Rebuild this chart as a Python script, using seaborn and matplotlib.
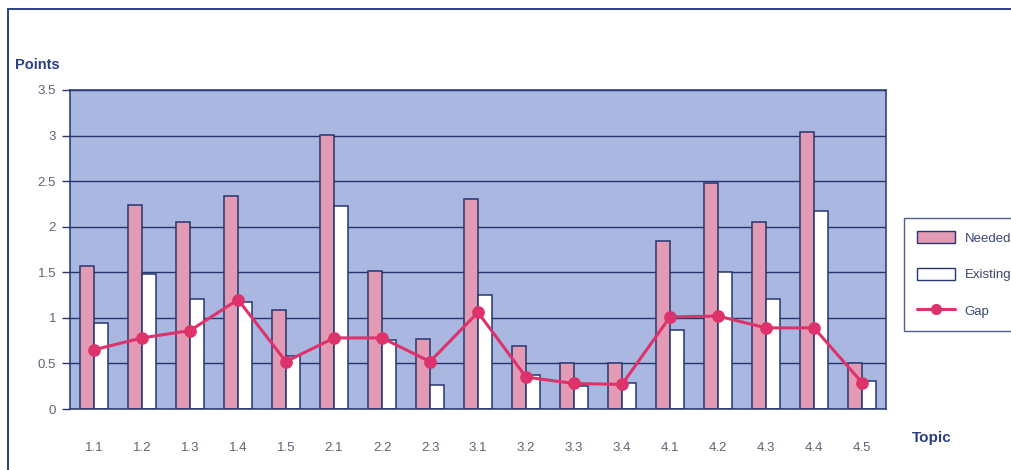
import numpy as np
import pandas as pd
import matplotlib
matplotlib.use("Agg")
import matplotlib.pyplot as plt
from matplotlib.patches import Patch
from matplotlib.lines import Line2D
import seaborn as sns

# Topics and scores
topics = ["1.1", "1.2", "1.3", "1.4", "1.5", "2.1", "2.2", "2.3", "3.1",
          "3.2", "3.3", "3.4", "4.1", "4.2", "4.3", "4.4", "4.5"]
needed = [1.57, 2.24, 2.05, 2.34, 1.09, 3.01, 1.51, 0.77, 2.30,
          0.69, 0.50, 0.50, 1.84, 2.48, 2.05, 3.04, 0.51]
existing = [0.94, 1.48, 1.21, 1.17, 0.58, 2.23, 0.76, 0.26, 1.25,
            0.37, 0.25, 0.28, 0.87, 1.50, 1.21, 2.17, 0.31]
gap = [0.65, 0.78, 0.86, 1.20, 0.52, 0.78, 0.78, 0.52, 1.06,
       0.35, 0.28, 0.27, 1.01, 1.02, 0.89, 0.89, 0.29]
series_names = ["Needed", "Existing"]
y_ticks = [0, 0.5, 1, 1.5, 2, 2.5, 3, 3.5]
y_tick_labels = ["0", "0.5", "1", "1.5", "2", "2.5", "3", "3.5"]

NAVY = "#2b3f86"
EDGE = "#27366e"
PINK = "#e39ab4"
PLOT_BG = "#a9b7e1"
GAP_RED = "#dd336a"
TICK_GREY = "#5d6375"

bars = pd.DataFrame({
    "Topic": topics * 2,
    "Points": needed + existing,
    "Series": [series_names[0]] * len(topics) + [series_names[1]] * len(topics),
})
gaps = pd.DataFrame({"Topic": topics, "Gap": gap})

sns.set_style("white")
plt.rcParams["font.family"] = ["Liberation Sans", "DejaVu Sans"]

fig = plt.figure(figsize=(10.11, 4.70), dpi=100)
fig.patch.set_facecolor("white")
ax = fig.add_axes([70 / 1011, 1 - 409 / 470, (886 - 70) / 1011, (409 - 90) / 470])
ax.set_facecolor(PLOT_BG)

sns.barplot(data=bars, x="Topic", y="Points", hue="Series", order=topics,
            hue_order=series_names, palette=[PINK, "white"], width=0.58, gap=0,
            edgecolor=EDGE, linewidth=1.1, saturation=1, legend=False, ax=ax)

sns.pointplot(data=gaps, x="Topic", y="Gap", order=topics, color=GAP_RED,
              markers="o", markersize=7.5, linewidth=2.2, ax=ax)

ax.set_ylim(0, 3.5)
ax.set_xlim(-0.5, len(topics) - 0.5)
ax.set_yticks(y_ticks)
ax.set_yticklabels(y_tick_labels)
ax.yaxis.grid(True, color=EDGE, linewidth=1.0)
ax.xaxis.grid(False)
ax.set_axisbelow(True)
ax.set_xlabel("")
ax.set_ylabel("")

for side in ["left", "bottom", "right", "top"]:
    ax.spines[side].set_visible(True)
    ax.spines[side].set_color(EDGE)
    ax.spines[side].set_linewidth(1.1)

ax.tick_params(axis="y", which="major", left=True, length=6, width=1.0,
               color=EDGE, labelsize=9.5, labelcolor=TICK_GREY, pad=4)
ax.tick_params(axis="x", which="major", bottom=False, length=0,
               labelsize=9.5, labelcolor=TICK_GREY, pad=24)

fig.text(15 / 1011, 1 - 65 / 470, "Points", fontsize=10.5, fontweight="bold",
         color=NAVY, ha="left", va="center")
fig.text(912 / 1011, 1 - 438 / 470, "Topic", fontsize=11, fontweight="bold",
         color=NAVY, ha="left", va="center")

handles = [
    Patch(facecolor=PINK, edgecolor=EDGE, linewidth=1.0, label="Needed"),
    Patch(facecolor="white", edgecolor=EDGE, linewidth=1.0, label="Existing"),
    Line2D([0], [0], color=GAP_RED, linewidth=2.2, marker="o", markersize=7,
           label="Gap"),
]
leg = fig.legend(handles=handles, loc="upper left",
                 bbox_to_anchor=(904 / 1011, 1 - 218 / 470),
                 frameon=True, fancybox=False, fontsize=9.5, handlelength=2.9,
                 handleheight=1.0, labelspacing=1.75, borderpad=1.0,
                 handletextpad=0.7, borderaxespad=0)
leg.get_frame().set_edgecolor(EDGE)
leg.get_frame().set_linewidth(1.0)
leg.get_frame().set_facecolor("white")
for t in leg.get_texts():
    t.set_color("#3a4770")

# Outer chart frame along the top and left edges
fig.add_artist(Line2D([8 / 1011, 1.0], [1 - 9 / 470, 1 - 9 / 470],
                      transform=fig.transFigure, color=NAVY, linewidth=1.4))
fig.add_artist(Line2D([8 / 1011, 8 / 1011], [0.0, 1 - 9 / 470],
                      transform=fig.transFigure, color=NAVY, linewidth=1.4))

fig.savefig("out.png", dpi=100)
